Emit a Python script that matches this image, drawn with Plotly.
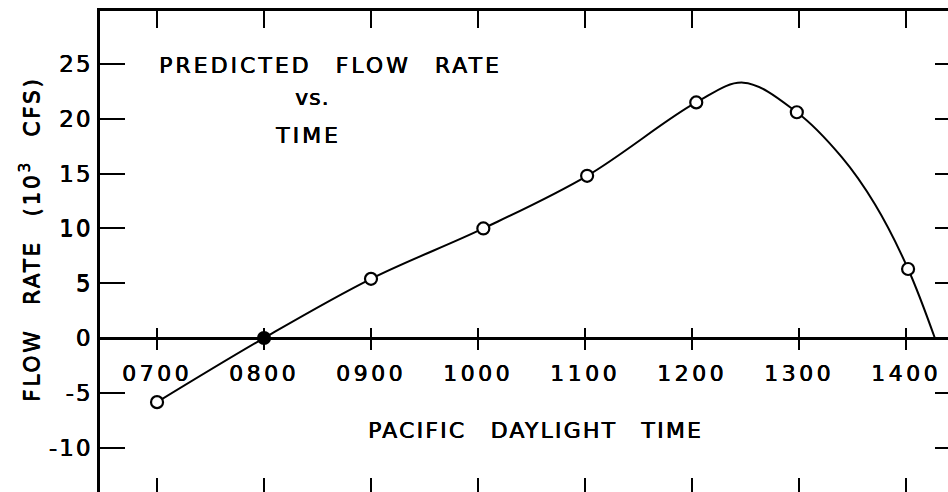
import plotly.graph_objects as go

# ---- data ----
hours = [7.0, 8.0, 9.0, 10.05, 11.02, 12.04, 12.98, 14.02]
flow = [-5.85, 0.0, 5.4, 10.0, 14.8, 21.5, 20.6, 6.3]
filled = [False, True, False, False, False, False, False, False]

curve_t = [7.0, 8.0, 9.0, 10.05, 11.02, 12.04, 12.48, 12.98, 13.4, 13.71, 14.02, 14.27]
curve_v = [-5.85, 0.0, 5.4, 10.0, 14.8, 21.5, 23.3, 20.6, 16.5, 12.2, 6.3, 0.0]

x_tickvals = [7, 8, 9, 10, 11, 12, 13, 14]
x_ticktext = ["0700", "0800", "0900", "1000", "1100", "1200", "1300", "1400"]
y_tickvals = [-10, -5, 0, 5, 10, 15, 20, 25]
y_ticktext = ["-10", "-5", "0", "5", "10", "15", "20", "25"]

title_lines = ["PREDICTED FLOW RATE", "vs.", "TIME"]
x_title = "PACIFIC DAYLIGHT TIME"
y_title = "FLOW RATE (10<sup>3</sup> CFS)"

# ---- layout constants ----
W, H = 948, 492
ML, MR, MT, MB = 100, 0, 11, 0
X_RANGE = [6.467, 14.393]
Y_RANGE = [-14.05, 29.84]
zero_pos = (0 - Y_RANGE[0]) / (Y_RANGE[1] - Y_RANGE[0])
FONT = "DejaVu Sans"
BLACK = "#000000"
SHADOW = "0.45px 0 0 #000, 0 0.3px 0 #000"


def px(xp):
    return (xp - ML) / (W - ML - MR)


def py(yp):
    return (H - MB - yp) / (H - MT - MB)


def spaced(t, ls, ws=0):
    return f"<span style='letter-spacing:{ls}px;word-spacing:{ws}px'>{t}</span>"


def font(size):
    return dict(family=FONT, size=size, color=BLACK, shadow=SHADOW)


fig = go.Figure()

fig.add_trace(go.Scatter(
    x=curve_t, y=curve_v, mode="lines",
    line=dict(color=BLACK, width=2, shape="spline", smoothing=1.0),
    hoverinfo="skip", showlegend=False))

fig.add_trace(go.Scatter(
    x=hours, y=flow, mode="markers",
    marker=dict(symbol="circle", size=12,
                color=[BLACK if f else "white" for f in filled],
                line=dict(color=BLACK, width=2.2)),
    showlegend=False))

# invisible helper traces so that the auxiliary axes are drawn
for xa, ya in [("x2", "y"), ("x3", "y"), ("x4", "y"), ("x", "y2")]:
    fig.add_trace(go.Scatter(x=[hours[0]], y=[flow[0]], xaxis=xa, yaxis=ya,
                             mode="markers", marker=dict(opacity=0),
                             hoverinfo="skip", showlegend=False))

common = dict(showgrid=False, zeroline=False, tickcolor=BLACK, tickwidth=2,
              linecolor=BLACK)

fig.update_layout(
    width=W, height=H,
    margin=dict(l=ML, r=MR, t=MT, b=MB, autoexpand=False),
    paper_bgcolor="white", plot_bgcolor="white",
    font=dict(family=FONT, color=BLACK, size=22),
    showlegend=False,
    xaxis=dict(range=X_RANGE, side="top", anchor="y", showline=True, linewidth=3,
               ticks="inside", ticklen=17, tickvals=x_tickvals,
               showticklabels=False, **common),
    xaxis2=dict(range=X_RANGE, overlaying="x", anchor="free", position=zero_pos,
                side="bottom", showline=True, linewidth=2.5, ticks="outside",
                ticklen=10, tickvals=x_tickvals,
                ticktext=[spaced(t, 3.5) for t in x_ticktext],
                tickfont=font(22),
                ticklabelstandoff=5, **common),
    xaxis3=dict(range=X_RANGE, overlaying="x", anchor="free", position=zero_pos,
                side="bottom", showline=False, ticks="inside", ticklen=10,
                tickvals=x_tickvals, showticklabels=False, **common),
    xaxis4=dict(range=X_RANGE, overlaying="x", anchor="y", side="bottom",
                showline=False, ticks="inside", ticklen=14,
                tickvals=x_tickvals, showticklabels=False, **common),
    yaxis=dict(range=Y_RANGE, side="left", anchor="x", showline=True, linewidth=3,
               ticks="inside", ticklen=25, tickvals=y_tickvals,
               ticktext=[spaced(t, 2) for t in y_ticktext],
               tickfont=font(23),
               ticklabelstandoff=0, **common),
    yaxis2=dict(range=Y_RANGE, overlaying="y", side="right", anchor="x",
                showline=False, ticks="inside", ticklen=13,
                tickvals=y_tickvals, showticklabels=False, **common),
)

fig.add_annotation(x=px(157), y=py(65), xref="paper", yref="paper",
                   text=spaced(title_lines[0], 3, 14), showarrow=False,
                   xanchor="left", yanchor="middle", font=font(22))
fig.add_annotation(x=px(312), y=py(97), xref="paper", yref="paper",
                   text=spaced(title_lines[1], 1), showarrow=False,
                   xanchor="center", yanchor="middle", font=font(22))
fig.add_annotation(x=px(308), y=py(135), xref="paper", yref="paper",
                   text=spaced(title_lines[2], 3), showarrow=False,
                   xanchor="center", yanchor="middle", font=font(22))
fig.add_annotation(x=px(366), y=py(430), xref="paper", yref="paper",
                   text=spaced(x_title, 2.2, 15), showarrow=False,
                   xanchor="left", yanchor="middle", font=font(22))
fig.add_annotation(x=px(30), y=py(240), xref="paper", yref="paper",
                   text=spaced(y_title, 2.5, 14), showarrow=False, textangle=-90,
                   xanchor="center", yanchor="middle", font=font(22))

fig.write_html("out.html")
